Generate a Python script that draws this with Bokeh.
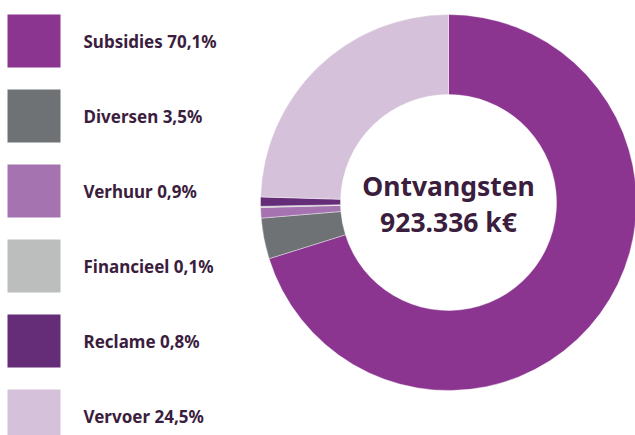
import numpy as np
from bokeh.plotting import figure
from bokeh.models import Range1d, ColumnDataSource
from bokeh.core.properties import value
from bokeh.embed import file_html
from bokeh.resources import INLINE

categories = ["Subsidies", "Diversen", "Verhuur", "Financieel", "Reclame", "Vervoer"]
shares = [70.1, 3.5, 0.9, 0.1, 0.8, 24.5]
share_labels = ["70,1%", "3,5%", "0,9%", "0,1%", "0,8%", "24,5%"]
colors = ["#8B3590", "#6E7275", "#A574B0", "#BCBEBD", "#652C78", "#D5C1D9"]
center_title = "Ontvangsten"
center_value = "923.336 k€"

W, H = 635, 435
p = figure(width=W, height=H, output_backend="svg", toolbar_location=None,
           x_range=Range1d(0, W), y_range=Range1d(0, H), min_border=0)
p.axis.visible = False
p.grid.visible = False
p.outline_line_color = None
p.background_fill_color = "white"
p.border_fill_color = "white"

def Y(ref_y):
    return H - ref_y

def X(ref_x):
    return ref_x

# donut
frac = np.array(shares) / sum(shares)
ends = np.cumsum(frac) * 2 * np.pi
starts = np.concatenate([[0], ends[:-1]])
src = ColumnDataSource(dict(
    start=np.pi / 2 - starts,
    end=np.pi / 2 - ends,
    color=colors,
))
cx, cy = X(448), Y(202)
p.annular_wedge(x=cx, y=cy, inner_radius=108, outer_radius=188,
                start_angle="end", end_angle="start", direction="anticlock",
                fill_color="color", line_color="white", line_width=0.4, source=src)

# legend
n = len(categories)
leg = ColumnDataSource(dict(
    x=[X(33.5)] * n,
    y=[Y(40.5 + 75 * i) for i in range(n)],
    tx=[X(83)] * n,
    color=colors,
    label=[f"{c} {s}" for c, s in zip(categories, share_labels)],
))
p.rect(x="x", y="y", width=53, height=53, fill_color="color", line_color=None, source=leg)
p.text(x="tx", y="y", text="label", text_font=value("Noto Sans"), text_font_style="bold",
       text_font_size="17px", text_color="#3B1D3E", text_baseline="middle",
       text_align="left", source=leg)

# center text
p.text(x=[cx, cx], y=[Y(185), Y(221)], text=[center_title, center_value],
       text_font=value("Noto Sans"), text_font_style="bold", text_font_size="26.5px",
       text_color="#3B1D3E", text_baseline="middle", text_align="center")

open("out.html", "w").write(file_html(p, INLINE))
